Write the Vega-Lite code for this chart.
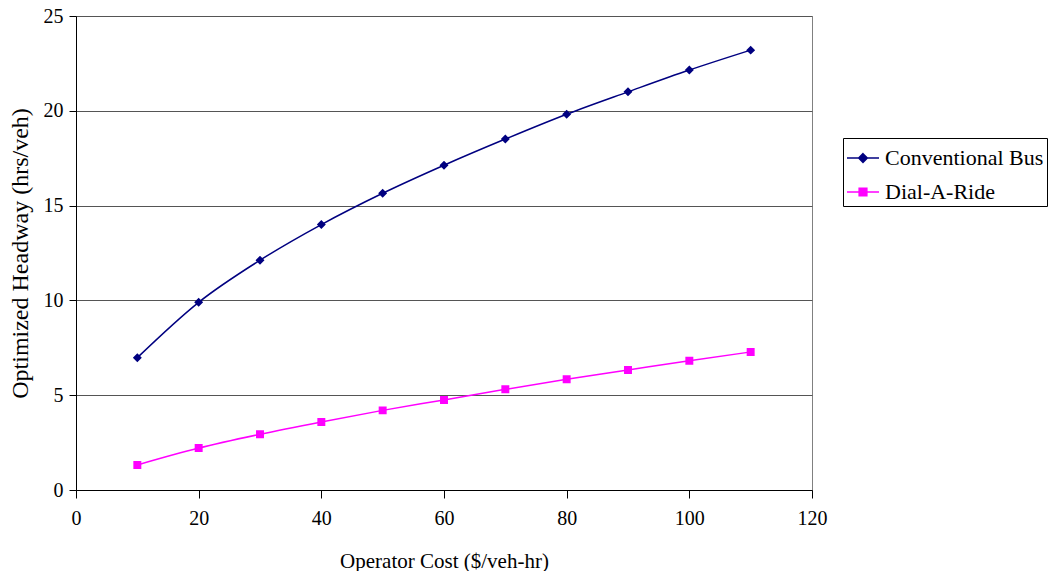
{
  "$schema": "https://vega.github.io/schema/vega-lite/v6.json",
  "width": 736,
  "height": 474,
  "autosize": {"type": "pad"},
  "padding": {"left": 8, "top": 6, "right": 0, "bottom": 0},
  "background": "white",
  "config": {
    "font": "Liberation Serif",
    "view": {"stroke": "#808080", "strokeWidth": 1},
    "axis": {
      "labelFont": "Liberation Serif",
      "titleFont": "Liberation Serif",
      "labelColor": "black",
      "titleColor": "black",
      "titleFontWeight": "normal",
      "domainColor": "black",
      "tickColor": "black",
      "gridColor": "#555555",
      "gridOpacity": 1
    },
    "legend": {
      "orient": "none",
      "legendX": 767,
      "legendY": 122,
      "padding": 3,
      "rowPadding": 6,
      "strokeColor": "black",
      "fillColor": "white",
      "symbolSize": 1024,
      "symbolStrokeWidth": 1.5,
      "labelFont": "Liberation Serif",
      "labelFontSize": 22,
      "labelColor": "black",
      "labelOffset": 5,
      "labelLimit": 300
    }
  },
  "data": {
    "values": [
      {"cost": 10, "headway": 6.98, "series": "Conventional Bus"},
      {"cost": 20, "headway": 9.9, "series": "Conventional Bus"},
      {"cost": 30, "headway": 12.12, "series": "Conventional Bus"},
      {"cost": 40, "headway": 14.0, "series": "Conventional Bus"},
      {"cost": 50, "headway": 15.65, "series": "Conventional Bus"},
      {"cost": 60, "headway": 17.13, "series": "Conventional Bus"},
      {"cost": 70, "headway": 18.51, "series": "Conventional Bus"},
      {"cost": 80, "headway": 19.82, "series": "Conventional Bus"},
      {"cost": 90, "headway": 21.0, "series": "Conventional Bus"},
      {"cost": 100, "headway": 22.15, "series": "Conventional Bus"},
      {"cost": 110, "headway": 23.2, "series": "Conventional Bus"},
      {"cost": 10, "headway": 1.32, "series": "Dial-A-Ride"},
      {"cost": 20, "headway": 2.21, "series": "Dial-A-Ride"},
      {"cost": 30, "headway": 2.94, "series": "Dial-A-Ride"},
      {"cost": 40, "headway": 3.59, "series": "Dial-A-Ride"},
      {"cost": 50, "headway": 4.2, "series": "Dial-A-Ride"},
      {"cost": 60, "headway": 4.75, "series": "Dial-A-Ride"},
      {"cost": 70, "headway": 5.31, "series": "Dial-A-Ride"},
      {"cost": 80, "headway": 5.84, "series": "Dial-A-Ride"},
      {"cost": 90, "headway": 6.33, "series": "Dial-A-Ride"},
      {"cost": 100, "headway": 6.82, "series": "Dial-A-Ride"},
      {"cost": 110, "headway": 7.28, "series": "Dial-A-Ride"}
    ]
  },
  "encoding": {
    "x": {
      "field": "cost",
      "type": "quantitative",
      "scale": {"domain": [0, 120], "nice": false},
      "axis": {
        "title": "Operator Cost ($/veh-hr)",
        "values": [0, 20, 40, 60, 80, 100, 120],
        "grid": false,
        "tickSize": 8,
        "labelFontSize": 20,
        "labelPadding": 10,
        "titleFontSize": 21,
        "titlePadding": 22,
        "labelFlush": false,
        "labelOverlap": false
      }
    },
    "y": {
      "field": "headway",
      "type": "quantitative",
      "scale": {"domain": [0, 25], "nice": false},
      "axis": {
        "title": "Optimized Headway (hrs/veh)",
        "values": [0, 5, 10, 15, 20, 25],
        "grid": true,
        "tickSize": 7,
        "labelFontSize": 20,
        "labelPadding": 6,
        "titleFontSize": 24,
        "titlePadding": 11,
        "labelFlush": false,
        "labelOverlap": false
      }
    }
  },
  "layer": [
    {
      "mark": {"type": "line", "interpolate": "monotone", "strokeWidth": 1.5},
      "encoding": {
        "stroke": {
          "field": "series",
          "type": "nominal",
          "title": "Series",
          "scale": {"domain": ["Conventional Bus", "Dial-A-Ride"], "range": ["#000080", "#FF00FF"]},
          "legend": {"title": null}
        }
      }
    },
    {
      "mark": {"type": "point", "filled": true, "size": 1100, "opacity": 1},
      "encoding": {
        "shape": {
          "field": "series",
          "type": "nominal",
          "title": "Series",
          "scale": {
            "domain": ["Conventional Bus", "Dial-A-Ride"],
            "range": [
              "M-1,0H1M0,-0.27L0.27,0L0,0.27L-0.27,0Z",
              "M-1,0H1M-0.24,-0.24H0.24V0.24H-0.24Z"
            ]
          },
          "legend": {"title": null}
        },
        "color": {
          "field": "series",
          "type": "nominal",
          "title": "Series",
          "scale": {"domain": ["Conventional Bus", "Dial-A-Ride"], "range": ["#000080", "#FF00FF"]},
          "legend": {"title": null}
        }
      }
    }
  ]
}
